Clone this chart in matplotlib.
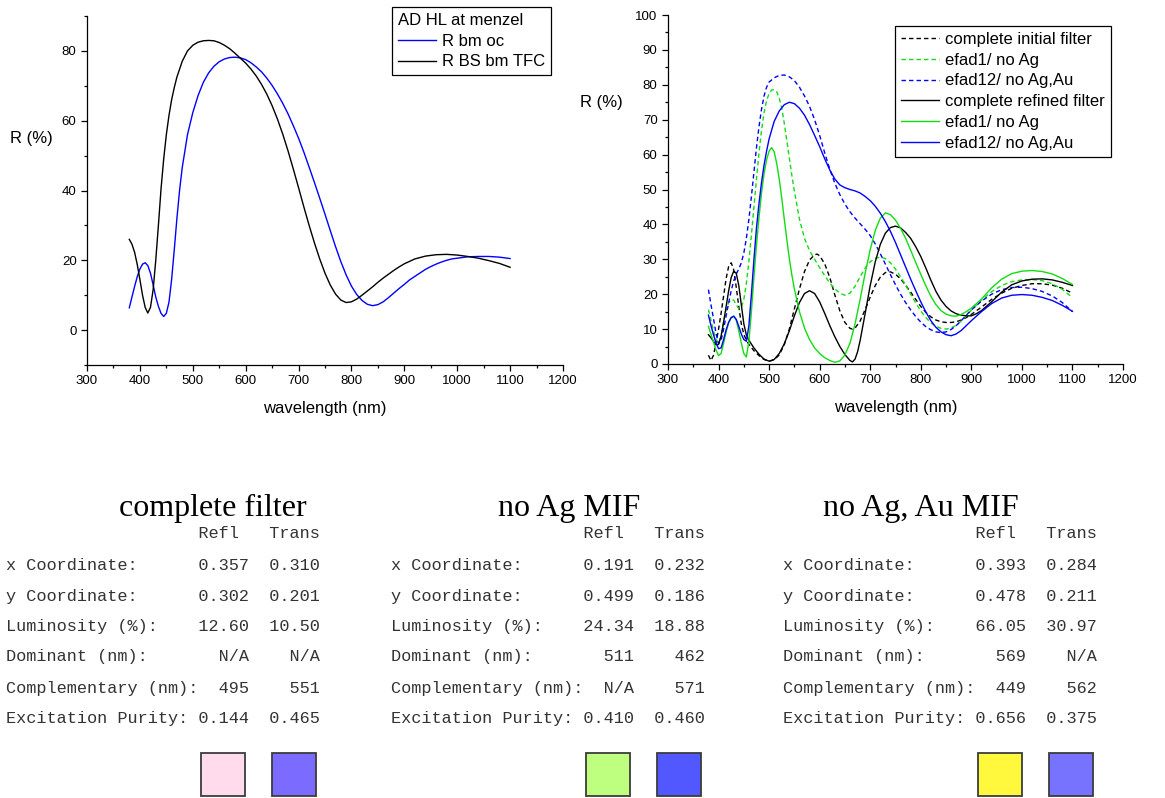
import matplotlib
matplotlib.use("Agg")
import matplotlib.pyplot as plt
from matplotlib.patches import Rectangle
from matplotlib.ticker import MultipleLocator

plt.rcParams['font.family'] = ['Liberation Sans', 'DejaVu Sans']

W, H = 1165, 798

# --- left panel: AD HL at menzel ---
bm_oc_wl = [380, 385, 390, 395, 400, 405, 410, 415, 420, 425, 430, 435, 440, 445, 450, 455, 460, 465, 470, 475,
            480, 490, 500, 510, 520, 530, 540, 550, 560, 570, 580, 590, 600, 610, 620, 630, 640, 650, 660, 670,
            680, 690, 700, 710, 720, 730, 740, 750, 760, 770, 780, 790, 800, 810, 820, 830, 840, 850, 860, 870,
            880, 890, 900, 910, 920, 930, 940, 950, 960, 970, 980, 990, 1000, 1020, 1040, 1060, 1080, 1100]
bm_oc_r = [6.4, 9.5, 12.5, 15.3, 17.5, 18.9, 19.3, 18.5, 16.3, 13, 9.5, 6.8, 4.8, 3.9, 4.8, 8, 14.5, 23, 32, 40,
           46.5, 56, 62.3, 67.2, 71, 73.7, 75.6, 76.9, 77.7, 78.1, 78.2, 78, 77.5, 76.6, 75.4, 74, 72.2, 70.1, 67.7, 65,
           62, 58.6, 55, 51, 46.7, 42.3, 37.8, 33.2, 28.5, 23.9, 19.6, 15.8, 12.6, 10.2, 8.5, 7.4, 7, 7.3, 8.1, 9.3,
           10.6, 11.9, 13.1, 14.4, 15.4, 16.4, 17.4, 18.2, 18.9, 19.5, 20, 20.4, 20.6, 21, 21.1, 21.1, 20.9, 20.5]

bs_tfc_wl = [380, 385, 390, 395, 400, 405, 410, 415, 420, 425, 430, 435, 440, 445, 450, 455, 460, 465, 470, 480,
             490, 500, 510, 520, 530, 540, 550, 560, 570, 580, 590, 600, 610, 620, 630, 640, 650, 660, 670, 680,
             690, 700, 710, 720, 730, 740, 750, 760, 770, 780, 790, 800, 810, 820, 830, 840, 850, 860, 870, 880,
             890, 900, 920, 940, 960, 980, 1000, 1020, 1040, 1060, 1080, 1100]
bs_tfc_r = [26, 24.6, 22.3, 18.8, 14.5, 10, 6.5, 4.9, 6.5, 11.5, 20, 30, 40.5, 49, 56, 61.5, 66, 69.5, 72.5, 77,
            80, 81.6, 82.5, 82.9, 83, 82.9, 82.4, 81.6, 80.6, 79.3, 77.9, 76.5, 74.8, 72.8, 70.4, 67.6, 64.3, 60.5, 56.2, 51.4,
            46.2, 40.8, 35.3, 30, 25, 20.4, 16.3, 12.9, 10.3, 8.6, 7.9, 8.1, 8.9, 10, 11.2, 12.4, 13.7, 14.9, 16, 17.1,
            18.1, 19, 20.4, 21.2, 21.6, 21.7, 21.5, 21.1, 20.6, 19.9, 19.1, 18]

# --- right panel: initial (dashed) and refined (solid) filters ---
init_full_wl = [380, 385, 390, 395, 400, 405, 410, 415, 420, 425, 430, 435, 440, 445, 450, 455, 460, 470, 480, 490,
                500, 510, 520, 530, 540, 550, 560, 570, 580, 590, 595, 600, 610, 620, 630, 640, 650, 660, 665, 670,
                680, 690, 700, 710, 720, 730, 740, 750, 760, 770, 780, 790, 800, 810, 820, 830, 840, 850, 860, 870,
                880, 890, 900, 920, 940, 960, 980, 1000, 1020, 1040, 1060, 1080, 1100]
init_full_r = [2.5, 1.0, 2.5, 6, 10, 14.5, 19.5, 24.5, 28, 29, 27, 22, 16.5, 11.5, 8.5, 6.8, 5.6, 3.8, 2.4, 1.3,
               0.8, 1.2, 2.6, 5.5, 10, 15.8, 21.5, 26.5, 29.8, 31.3, 31.5, 31, 28.7, 24.8, 19.8, 15.2, 11.9, 10.2, 10, 10.3,
               12.3, 15.6, 19.2, 22.5, 24.9, 26.2, 26.4, 25.7, 24.4, 22.6, 20.6, 18.5, 16.5, 14.8, 13.5, 12.6, 12.1, 11.9, 11.9, 12.1,
               12.6, 13.3, 14.2, 16.3, 18.5, 20.3, 21.7, 22.5, 23, 23, 22.6, 21.7, 20.3]

init_noag_wl = [380, 385, 390, 395, 400, 405, 410, 415, 420, 425, 430, 435, 440, 445, 450, 455, 460, 465, 470, 475,
                480, 485, 490, 495, 500, 505, 510, 515, 520, 525, 530, 535, 540, 545, 550, 560, 570, 580, 590, 600,
                610, 620, 630, 640, 650, 660, 670, 680, 690, 700, 710, 720, 730, 740, 750, 760, 770, 780, 790, 800,
                810, 820, 830, 840, 850, 860, 870, 880, 890, 900, 920, 940, 960, 980, 1000, 1020, 1040, 1060, 1080, 1100]
init_noag_r = [15.6, 12.5, 9.5, 7, 6, 8, 12, 15.5, 17.6, 18.5, 18.3, 17, 15.8, 16.2, 18.5, 23, 29.5, 37, 45, 53,
               60.5, 67, 72, 75.5, 77.5, 78.5, 78.6, 78, 76.2, 73.3, 69, 64, 59, 54, 49.5, 41.5, 36, 32.5, 30, 27.6,
               25.3, 23.2, 21.5, 20.3, 19.7, 20.3, 22.3, 25, 27.5, 29.3, 30.3, 30.6, 30.2, 29, 27.2, 25, 22.6, 20, 17.5, 15.2,
               13.3, 11.8, 10.8, 10.2, 10, 10.3, 11.1, 12.3, 13.8, 15.4, 18.3, 20.7, 22.5, 23.6, 24.1, 24.2, 23.9, 23, 21.4, 19]

init_noagau_wl = [380, 385, 390, 395, 400, 405, 410, 415, 420, 425, 430, 435, 440, 445, 450, 455, 460, 465, 470, 475,
                  480, 485, 490, 495, 500, 510, 520, 530, 540, 550, 560, 570, 580, 590, 600, 610, 620, 630, 640, 650,
                  660, 670, 680, 690, 700, 710, 720, 730, 740, 750, 760, 770, 780, 790, 800, 810, 820, 830, 840, 850,
                  860, 870, 880, 890, 900, 920, 940, 960, 980, 1000, 1020, 1040, 1060, 1080, 1100]
init_noagau_r = [21.3, 17, 13, 8.8, 5.8, 6.8, 10, 13.8, 17.5, 21, 23.8, 25.8, 27.2, 29, 31.8, 36, 41.5, 48, 55, 62,
                 68, 73, 76.8, 79.3, 80.8, 82, 82.7, 82.8, 82.3, 81.2, 79.3, 76.8, 73.8, 70, 65.5, 60.5, 55.8, 51.8, 48.5, 45.8,
                 43.6, 41.8, 40.2, 38.6, 36.8, 34.4, 31.6, 28.6, 25.6, 22.7, 20, 17.6, 15.5, 13.6, 12, 10.7, 9.8, 9.2, 9, 9.2,
                 9.9, 11, 12.4, 14, 15.5, 18, 20, 21.3, 21.9, 22, 21.6, 20.8, 19.5, 17.6, 15]

ref_full_wl = [380, 385, 390, 395, 400, 405, 410, 415, 420, 425, 430, 435, 440, 445, 450, 455, 460, 470, 480, 490,
               500, 510, 520, 530, 540, 550, 560, 570, 580, 590, 600, 610, 620, 630, 640, 650, 660, 665, 670, 675,
               680, 690, 700, 710, 720, 730, 740, 750, 760, 770, 780, 790, 800, 810, 820, 830, 840, 850, 860, 870,
               880, 890, 900, 910, 920, 940, 960, 980, 1000, 1020, 1040, 1060, 1080, 1100]
ref_full_r = [8.4, 7.5, 6.5, 5.5, 5.6, 8, 12, 16.5, 21, 24.8, 26.6, 26, 22.5, 17, 11.5, 8.3, 6.8, 4.6, 2.8, 1.4,
              0.8, 1.3, 3, 5.8, 9.5, 13.8, 17.6, 20.2, 21, 20.2, 17.8, 14.5, 11, 7.8, 5, 2.7, 1, 0.6, 1.4, 3.5,
              6.7, 14.5, 22.5, 29.3, 34.3, 37.5, 39.1, 39.5, 39, 37.7, 36, 33.6, 30.8, 27.5, 24, 20.8, 18.3, 16.5, 15.2, 14.4,
              14, 13.8, 13.8, 14.4, 15.3, 17.8, 20.6, 22.7, 23.8, 24.3, 24.4, 24.1, 23.4, 22.5]

ref_noag_wl = [380, 385, 390, 395, 400, 405, 410, 415, 420, 425, 430, 435, 440, 445, 450, 455, 460, 465, 470, 475,
               480, 485, 490, 495, 500, 505, 510, 515, 520, 525, 530, 535, 540, 545, 550, 560, 570, 580, 590, 600,
               610, 620, 630, 640, 650, 660, 670, 680, 690, 700, 710, 720, 730, 740, 750, 760, 770, 780, 790, 800,
               810, 820, 830, 840, 850, 860, 870, 880, 890, 900, 920, 940, 960, 980, 1000, 1020, 1040, 1060, 1080, 1100]
ref_noag_r = [10.8, 8.5, 6.3, 4, 2.4, 3, 6, 9.2, 11.8, 13.3, 13.7, 12.5, 9.5, 6, 3, 2, 6.5, 15, 25, 34,
              42, 49, 54.5, 58.5, 61, 62, 60.8, 57.5, 53, 47.5, 41.5, 35.7, 30.2, 25.5, 21.5, 15, 10.3, 7, 4.6, 3,
              1.8, 1, 0.5, 0.9, 2.6, 6, 11.5, 18.5, 26, 32.8, 38.3, 41.8, 43.3, 42.8, 41.2, 38.9, 36, 32.6, 29.1, 25.7,
              22.4, 19.4, 17, 15.3, 14.3, 13.8, 13.7, 14.2, 15, 16, 18.6, 21.8, 24.3, 25.9, 26.6, 26.8, 26.5, 25.8, 24.5, 22.8]

ref_noagau_wl = [380, 385, 390, 395, 400, 405, 410, 415, 420, 425, 430, 435, 440, 445, 450, 455, 460, 465, 470, 475,
                 480, 485, 490, 495, 500, 510, 520, 530, 540, 550, 560, 570, 580, 590, 600, 610, 620, 630, 640, 650,
                 660, 670, 680, 690, 700, 710, 720, 730, 740, 750, 760, 770, 780, 790, 800, 810, 820, 830, 840, 850,
                 860, 870, 880, 890, 900, 920, 940, 960, 980, 1000, 1020, 1040, 1060, 1080, 1100]
ref_noagau_r = [14, 11, 8.4, 6, 4.4, 4.6, 7, 9.8, 12, 13.3, 13.7, 12.8, 10.8, 8.6, 7, 6.5, 11, 20, 30, 39,
                46, 52, 57, 61, 64.5, 69.5, 72.5, 74.3, 75, 74.6, 73.3, 71.3, 68.6, 65.5, 62.3, 58.8, 55.6, 53, 51.3, 50.5,
                50, 49.6, 49, 48, 46.8, 45.2, 43.2, 40.8, 38, 34.8, 31.3, 27.8, 24.3, 21, 17.8, 14.9, 12.4, 10.5, 9.2, 8.4,
                8.1, 8.6, 9.6, 11, 12.4, 15, 17.3, 18.9, 19.7, 19.9, 19.7, 19.1, 18.2, 16.8, 15.1]

# --- colour tables ---
filter_titles = ['complete filter', 'no Ag MIF', 'no Ag, Au MIF']
row_labels = ['x Coordinate:', 'y Coordinate:', 'Luminosity (%):', 'Dominant (nm):',
              'Complementary (nm):', 'Excitation Purity:']
refl_values = [['0.357', '0.302', '12.60', 'N/A', '495', '0.144'],
               ['0.191', '0.499', '24.34', '511', 'N/A', '0.410'],
               ['0.393', '0.478', '66.05', '569', '449', '0.656']]
trans_values = [['0.310', '0.201', '10.50', 'N/A', '551', '0.465'],
                ['0.232', '0.186', '18.88', '462', '571', '0.460'],
                ['0.284', '0.211', '30.97', 'N/A', '562', '0.375']]
refl_colors = ['#FFDBEC', '#BEFF80', '#FFF83C']
trans_colors = ['#7B6BFF', '#5258FF', '#7873FF']


def px_axes(fig, x0, y0, x1, y1):
    return fig.add_axes([x0 / W, 1 - y1 / H, (x1 - x0) / W, (y1 - y0) / H])


def style_axes(ax, ylim, ymajor, yminor):
    ax.spines['top'].set_visible(False)
    ax.spines['right'].set_visible(False)
    for s in ('left', 'bottom'):
        ax.spines[s].set_linewidth(0.9)
    ax.set_xlim(300, 1200)
    ax.set_ylim(*ylim)
    ax.xaxis.set_major_locator(MultipleLocator(100))
    ax.xaxis.set_minor_locator(MultipleLocator(50))
    ax.yaxis.set_major_locator(MultipleLocator(ymajor))
    ax.yaxis.set_minor_locator(MultipleLocator(yminor))
    ax.tick_params(which='both', direction='out', labelsize=9.5, width=0.9)
    ax.tick_params(which='major', length=4)
    ax.tick_params(which='minor', length=2.5)


def add_labels(ax, ylab_xy):
    ax.set_xlabel('wavelength (nm)', fontsize=12)
    ax.xaxis.set_label_coords(0.5, -0.126)
    ax.xaxis.label.set_verticalalignment('center')
    ax.set_ylabel('R (%)', fontsize=12, rotation=0, ha='center', va='center')
    ax.yaxis.set_label_coords(*ylab_xy)


leg_style = dict(borderaxespad=0, fontsize=12, fancybox=False, framealpha=1, edgecolor='black',
                 handlelength=2.3, handletextpad=0.35, labelspacing=0.35, borderpad=0.35)

fig = plt.figure(figsize=(W / 100, H / 100), dpi=100)

dash = (0, (3.2, 2.2))

# left chart
ax1 = px_axes(fig, 87, 16, 563, 365)
style_axes(ax1, (-10, 90), 20, 10)
ax1.set_yticks([0, 20, 40, 60, 80])
ax1.plot(bm_oc_wl, bm_oc_r, color='#0000FF', lw=1.0, label='R bm oc')
ax1.plot(bs_tfc_wl, bs_tfc_r, color='black', lw=1.0, label='R BS bm TFC')
add_labels(ax1, ((31 - 87) / 476, (365 - 138) / 349))
leg1 = ax1.legend(title='AD HL at menzel', alignment='left', title_fontsize=12, loc='upper left',
                  bbox_to_anchor=(392 / W, 1 - 7 / H), bbox_transform=fig.transFigure, **leg_style)
leg1.get_frame().set_linewidth(0.9)

# right chart
ax2 = px_axes(fig, 668, 15, 1123, 364)
style_axes(ax2, (0, 100), 10, 5)
ax2.plot(init_full_wl, init_full_r, color='black', lw=1.0, ls=dash, label='complete initial filter')
ax2.plot(init_noag_wl, init_noag_r, color='#11DD11', lw=1.0, ls=dash, label='efad1/ no Ag')
ax2.plot(init_noagau_wl, init_noagau_r, color='#0000FF', lw=1.0, ls=dash, label='efad12/ no Ag,Au')
ax2.plot(ref_full_wl, ref_full_r, color='black', lw=1.0, label='complete refined filter')
ax2.plot(ref_noag_wl, ref_noag_r, color='#11DD11', lw=1.0, label='efad1/ no Ag')
ax2.plot(ref_noagau_wl, ref_noagau_r, color='#0000FF', lw=1.0, label='efad12/ no Ag,Au')
add_labels(ax2, ((601 - 668) / 455, (364 - 103) / 349))
leg2 = ax2.legend(loc='upper left', bbox_to_anchor=(895 / W, 1 - 26 / H), bbox_transform=fig.transFigure,
                  **leg_style)
leg2.get_frame().set_linewidth(0.9)

# colour tables, drawn on a pixel-space overlay
ov = fig.add_axes([0, 0, 1, 1], zorder=-1)
ov.set_xlim(0, W)
ov.set_ylim(H, 0)
ov.axis('off')

table_x = [6, 391, 783]
title_x = [213, 569, 921]
row_y = [565, 596, 627, 657, 688, 718]
cw = 10.17  # monospace character width in px
mono = dict(family='Liberation Mono', fontsize=12.2, color='#333333', ha='left', va='center')

for i in range(3):
    ov.text(title_x[i], 516, filter_titles[i], family='Liberation Serif', fontsize=23,
            ha='center', va='baseline', color='black')
    ov.text(table_x[i], 534, ' ' * 19 + 'Refl   Trans', **mono)
    for lab, rv, tv, y in zip(row_labels, refl_values[i], trans_values[i], row_y):
        ov.text(table_x[i], y, f'{lab:<19}{rv:>5}  {tv:>5}', **mono)
    rx = table_x[i] + 19 * cw + 2
    tx = table_x[i] + 26 * cw + 2
    ov.add_patch(Rectangle((rx, 752.5), 43.5, 43.5, facecolor=refl_colors[i], edgecolor='#3c3c3c', lw=1.3))
    ov.add_patch(Rectangle((tx, 752.5), 43.5, 43.5, facecolor=trans_colors[i], edgecolor='#3c3c3c', lw=1.3))

fig.savefig('out.png', dpi=100)
